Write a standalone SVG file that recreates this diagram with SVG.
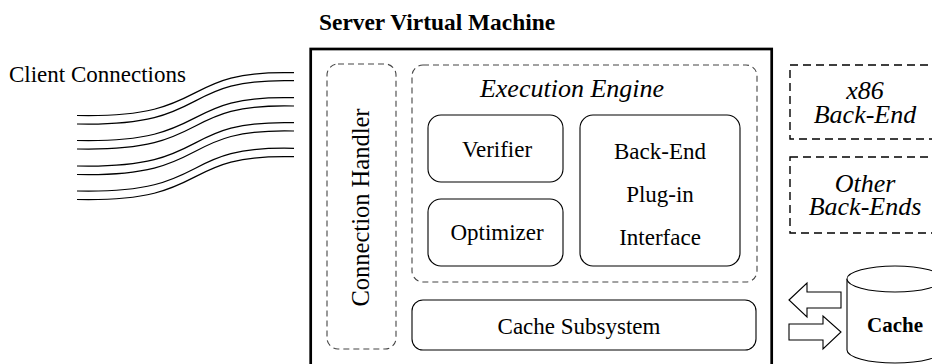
<svg xmlns="http://www.w3.org/2000/svg" width="932" height="364" viewBox="0 0 932 364">
<style>
.r{font-size:23px}
.i{font-size:26px;font-style:italic}
.b{font-weight:bold}
.solid{fill:#fff;stroke:#000;stroke-width:1.1}
.dash{fill:none;stroke:#444;stroke-width:1.1;stroke-dasharray:6 4}
.dash2{fill:none;stroke:#000;stroke-width:1.4;stroke-dasharray:8 5}
.wire{fill:none;stroke:#000;stroke-width:1.2}
</style>
<rect width="932" height="364" fill="#fff"/>
<g font-family="'Liberation Serif', 'Times New Roman', Times, 'DejaVu Serif', serif" fill="#000">
<g id="title"><text class="b" x="319" y="30" font-size="23.4">Server Virtual Machine</text></g>
<g id="client"><text class="r" x="9" y="82">Client Connections</text></g>
<g id="connectors">
<path class="wire" d="M77 115.5C215 118.5 175 69.7 294 72.7"/>
<path class="wire" d="M77 124C215 127 175 77.7 294 80.7"/>
<path class="wire" d="M77 140.5C215 143.5 175 94.7 294 97.7"/>
<path class="wire" d="M77 149C215 152 175 103 294 106"/>
<path class="wire" d="M77 166C215 169 175 119.7 294 122.7"/>
<path class="wire" d="M77 174.5C215 177.5 175 128 294 131"/>
<path class="wire" d="M77 191C215 194 175 145.3 294 148.3"/>
<path class="wire" d="M77 199.5C215 202.5 175 153.7 294 156.7"/>
<polygon class="solid" points="789,300 807,283 807,292 841,292 841,308 807,308 807,317"/>
<polygon class="solid" points="789,324 823,324 823,316 841,332 823,349 823,340 789,340"/>
</g>
<g id="server"><rect x="310.7" y="49" width="461" height="340" fill="none" stroke="#000" stroke-width="2.7"/></g>
<g id="connection-handler">
<rect class="dash" x="327" y="64" width="69" height="285" rx="11"/>
<text transform="translate(369 207.5) rotate(-90)" text-anchor="middle" font-size="24.5">Connection Handler</text>
</g>
<g id="execution-engine">
<rect class="dash" x="412" y="65" width="345" height="217" rx="11"/>
<text class="i" x="572" y="97" text-anchor="middle">Execution Engine</text>
</g>
<g id="verifier">
<rect class="solid" x="428" y="115" width="135" height="67" rx="13"/>
<text class="r" x="497" y="157" text-anchor="middle">Verifier</text>
</g>
<g id="optimizer">
<rect class="solid" x="428" y="199" width="135" height="67" rx="13"/>
<text class="r" x="497" y="240" text-anchor="middle">Optimizer</text>
</g>
<g id="plugin">
<rect class="solid" x="580" y="115" width="160" height="151" rx="13"/>
<text class="r" x="660" y="159" text-anchor="middle">Back-End</text>
<text class="r" x="660" y="202" text-anchor="middle">Plug-in</text>
<text class="r" x="660" y="245" text-anchor="middle">Interface</text>
</g>
<g id="cache-subsystem">
<rect class="solid" x="412" y="300" width="344" height="50" rx="11"/>
<text class="r" x="579" y="334" text-anchor="middle">Cache Subsystem</text>
</g>
<g id="x86">
<rect class="dash2" x="790" y="65" width="160" height="74"/>
<text class="i" x="865" y="99" text-anchor="middle">x86</text>
<text class="i" x="865" y="123" text-anchor="middle">Back-End</text>
</g>
<g id="other">
<rect class="dash2" x="790" y="157" width="160" height="76"/>
<text class="i" x="865" y="192" text-anchor="middle">Other</text>
<text class="i" x="865" y="215" text-anchor="middle">Back-Ends</text>
</g>
<g id="cache">
<path class="solid" d="M847 279V350A48 13 0 0 0 943 350V279"/>
<ellipse class="solid" cx="895" cy="279" rx="48" ry="13"/>
<text class="b" x="895" y="332" text-anchor="middle" font-size="21">Cache</text>
</g>
</g>
</svg>
